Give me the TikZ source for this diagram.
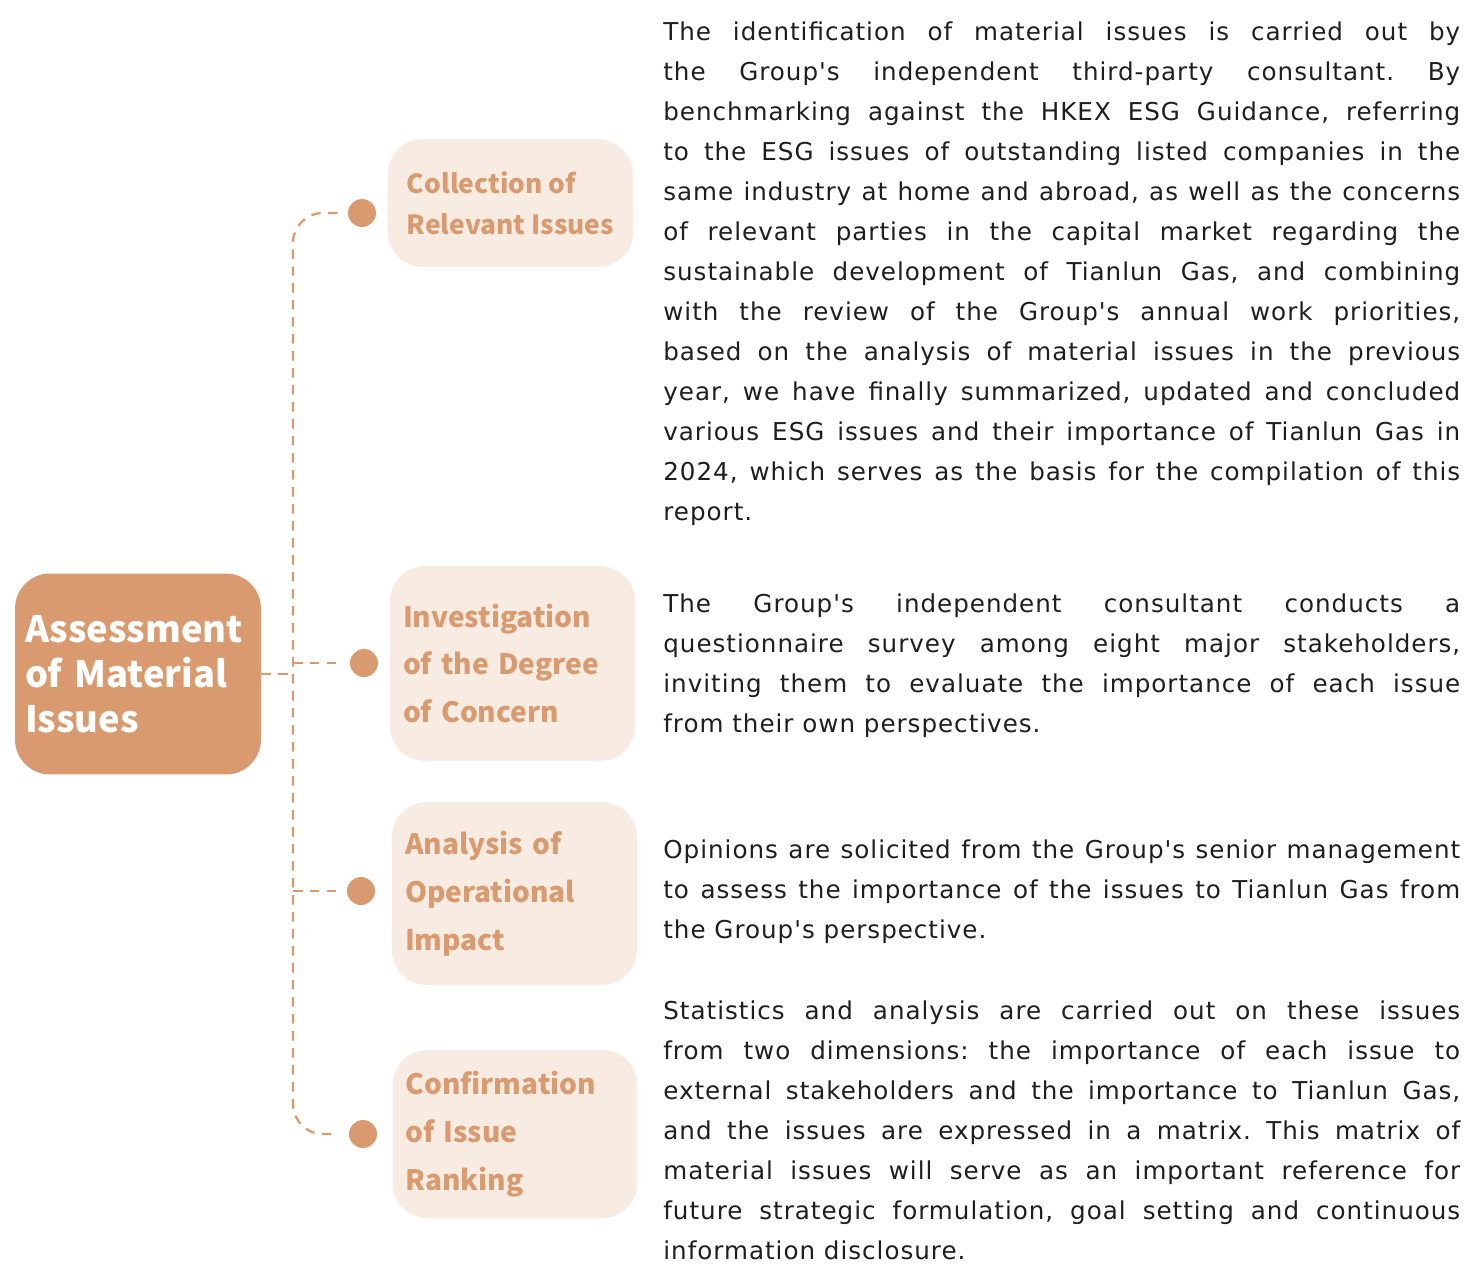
\documentclass[tikz,border=0pt]{standalone}
\usepackage{fontspec}
\setmainfont{DejaVu Sans}[LetterSpace=4,Ligatures=TeXOff]
\newfontfamily\headfont{Noto Sans CJK SC}
\definecolor{tancol}{HTML}{DA9A70}
\definecolor{peach}{HTML}{F8ECE2}
\definecolor{ink}{HTML}{1E1E1E}
\newcommand\fl[1]{\makebox[15.94cm][s]{#1}}
\hyphenpenalty=10000
\frenchspacing
\begin{document}
\begin{tikzpicture}[x=0.02cm,y=-0.02cm,line join=round,
  mainbox/.style={fill=tancol,rounded corners=0.7cm,minimum width=4.92cm,minimum height=4.02cm,
    text=white,align=left,inner xsep=0.2cm,text width=4.52cm,font=\headfont\bfseries\fontsize{20.7}{25.5}\selectfont},
  stepbox/.style={fill=peach,rounded corners=0.7cm,minimum width=4.9cm,text=tancol,align=left,
    font=\headfont\bfseries\fontsize{16}{27.2}\selectfont},
  steptext/.style={inner xsep=0.26cm,text width=4.38cm},
  dot/.style={circle,fill=tancol,minimum size=0.56cm,inner sep=0pt},
  link/.style={draw=tancol,line width=1.3pt,dash pattern=on 0.19cm off 0.15cm},
  para/.style={anchor=base west,inner sep=0pt,align=left,text=ink,font=\fontsize{14}{22.76}\selectfont}]
 \useasboundingbox (0,0) rectangle (1477,1269);
 % left box
 \node[mainbox] (assess) at (138,674) {Assessment\\of Material\\Issues};
 % steps
 \node[stepbox,minimum height=2.56cm,font=\headfont\bfseries\fontsize{15}{23.2}\selectfont]
   (collect) at (510.5,203) {Collection of\\Relevant Issues};
 \node[stepbox,steptext,minimum height=3.9cm] (invest) at (512.5,663.5) {Investigation\\of the Degree\\of Concern};
 \node[stepbox,steptext,minimum height=3.66cm] (analysis) at (514.5,893.5) {Analysis of\\Operational\\Impact};
 \node[stepbox,steptext,minimum height=3.36cm] (confirm) at (515,1134) {Confirmation\\of Issue\\Ranking};
 \node[dot] (d1) at (362,213) {};
 \node[dot] (d2) at (364,663) {};
 \node[dot] (d3) at (361,891) {};
 \node[dot] (d4) at (363,1134) {};
 % dashed tree
 \coordinate (trunk) at (293,676);
 \draw[link,rounded corners=0.6cm,shorten <=0.2cm,shorten >=0.2cm]
   (d1.west) -- (d1.west -| trunk) -- (d4.west -| trunk) -- (d4.west);
 \draw[link] (assess.east) -- (assess.east -| trunk);
 \draw[link,shorten >=0.2cm] (d2.west -| trunk) -- (d2.west);
 \draw[link,shorten >=0.2cm] (d3.west -| trunk) -- (d3.west);
 % texts (placed at the baseline of their last line)
 \node[para] (p1) at (663,520) {\fl{The identification of material issues is carried out by}\\
   \fl{the Group's independent third-party consultant. By}\\
   \fl{benchmarking against the HKEX ESG Guidance, referring}\\
   \fl{to the ESG issues of outstanding listed companies in the}\\
   \fl{same industry at home and abroad, as well as the concerns}\\
   \fl{of relevant parties in the capital market regarding the}\\
   \fl{sustainable development of Tianlun Gas, and combining}\\
   \fl{with the review of the Group's annual work priorities,}\\
   \fl{based on the analysis of material issues in the previous}\\
   \fl{year, we have finally summarized, updated and concluded}\\
   \fl{various ESG issues and their importance of Tianlun Gas in}\\
   \fl{2024, which serves as the basis for the compilation of this}\\
   report.};
 \node[para] (p2) at (663,732) {\fl{The Group's independent consultant conducts a}\\
   \fl{questionnaire survey among eight major stakeholders,}\\
   \fl{inviting them to evaluate the importance of each issue}\\
   from their own perspectives.};
 \node[para] (p3) at (663,938) {\fl{Opinions are solicited from the Group's senior management}\\
   \fl{to assess the importance of the issues to Tianlun Gas from}\\
   the Group's perspective.};
 \node[para] (p4) at (663,1259) {\fl{Statistics and analysis are carried out on these issues}\\
   \fl{from two dimensions: the importance of each issue to}\\
   \fl{external stakeholders and the importance to Tianlun Gas,}\\
   \fl{and the issues are expressed in a matrix. This matrix of}\\
   \fl{material issues will serve as an important reference for}\\
   \fl{future strategic formulation, goal setting and continuous}\\
   information disclosure.};
\end{tikzpicture}
\end{document}
